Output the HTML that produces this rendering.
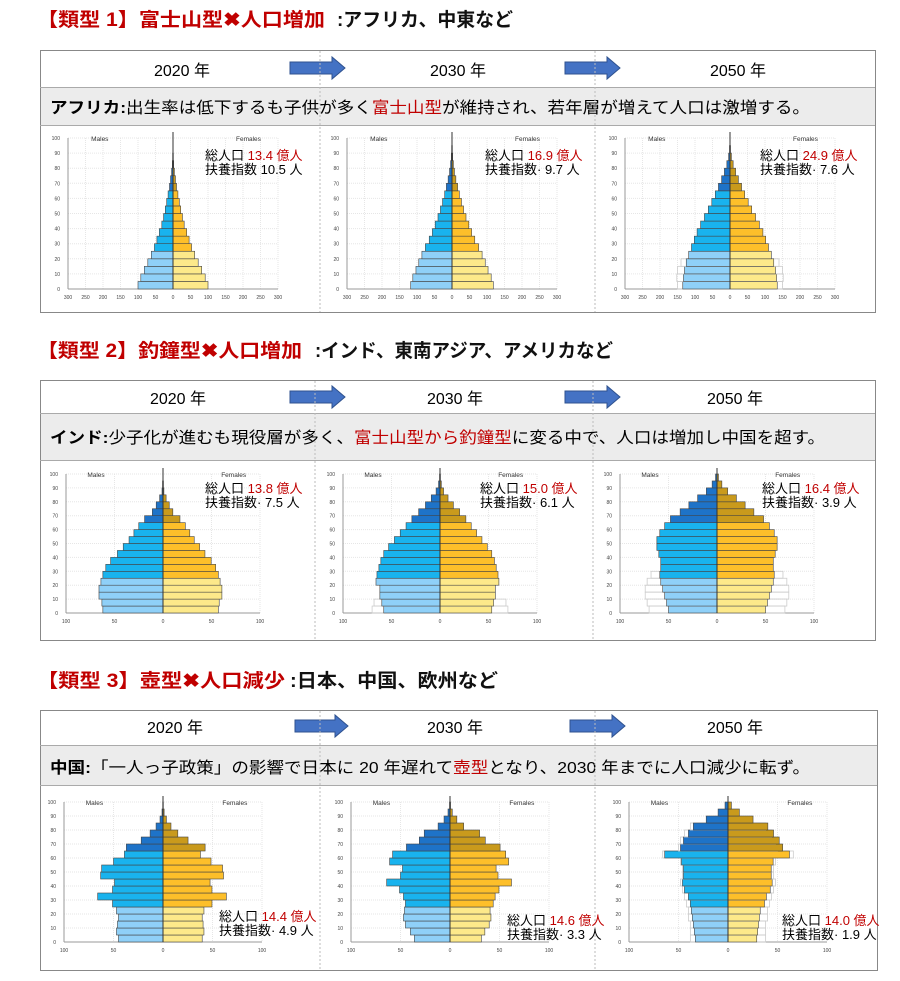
<!DOCTYPE html>
<html><head><meta charset="utf-8">
<style>
html,body{margin:0;padding:0;background:#fff;}
svg{display:block;font-family:"Liberation Sans","Noto Sans CJK JP",sans-serif;}
</style></head>
<body>
<svg id="s" width="900" height="981" viewBox="0 0 900 981" xmlns="http://www.w3.org/2000/svg">
<!-- Titles -->
<text x="37" y="26" font-size="19" font-weight="bold" fill="#c00000" textLength="288" lengthAdjust="spacingAndGlyphs">【類型 1】富士山型✖人口増加</text>
<text x="337" y="26" font-size="19" font-weight="bold" fill="#111" textLength="176" lengthAdjust="spacingAndGlyphs">:アフリカ、中東など</text>
<text x="37" y="357" font-size="19" font-weight="bold" fill="#c00000" textLength="265" lengthAdjust="spacingAndGlyphs">【類型 2】釣鐘型✖人口増加</text>
<text x="315" y="357" font-size="19" font-weight="bold" fill="#111" textLength="298" lengthAdjust="spacingAndGlyphs">:インド、東南アジア、アメリカなど</text>
<text x="37" y="687" font-size="19" font-weight="bold" fill="#c00000" textLength="248" lengthAdjust="spacingAndGlyphs">【類型 3】壺型✖人口減少</text>
<text x="290" y="687" font-size="19" font-weight="bold" fill="#111" textLength="208" lengthAdjust="spacingAndGlyphs">:日本、中国、欧州など</text>

<!-- Box 1 -->
<rect x="40.5" y="50.5" width="835" height="262" fill="#fff" stroke="#888"/>
<rect x="41" y="87" width="834" height="38" fill="#ececec"/>
<line x1="40" y1="87.5" x2="875" y2="87.5" stroke="#aaa"/>
<line x1="40" y1="125.5" x2="875" y2="125.5" stroke="#aaa"/>
<text x="182" y="76" font-size="16" text-anchor="middle">2020 年</text>
<text x="458" y="76" font-size="16" text-anchor="middle">2030 年</text>
<text x="738" y="76" font-size="16" text-anchor="middle">2050 年</text>
<polygon points="290,62 332,62 332,57 345,68 332,79 332,74 290,74" fill="#4472c4" stroke="#2f528f"/>
<polygon points="565,62 607,62 607,57 620,68 607,79 607,74 565,74" fill="#4472c4" stroke="#2f528f"/>
<text x="50" y="113" font-size="16" textLength="760" lengthAdjust="spacingAndGlyphs"><tspan font-weight="bold">アフリカ:</tspan>出生率は低下するも子供が多く<tspan fill="#c00000">富士山型</tspan>が維持され、若年層が増えて人口は激増する。</text>

<!-- Box 2 -->
<rect x="40.5" y="380.5" width="835" height="260" fill="#fff" stroke="#888"/>
<rect x="41" y="413" width="834" height="47" fill="#ececec"/>
<line x1="40" y1="413.5" x2="875" y2="413.5" stroke="#aaa"/>
<line x1="40" y1="460.5" x2="875" y2="460.5" stroke="#aaa"/>
<text x="178" y="404" font-size="16" text-anchor="middle">2020 年</text>
<text x="455" y="404" font-size="16" text-anchor="middle">2030 年</text>
<text x="735" y="404" font-size="16" text-anchor="middle">2050 年</text>
<polygon points="290,391 332,391 332,386 345,397 332,408 332,403 290,403" fill="#4472c4" stroke="#2f528f"/>
<polygon points="565,391 607,391 607,386 620,397 607,408 607,403 565,403" fill="#4472c4" stroke="#2f528f"/>
<text x="50" y="443" font-size="16" textLength="775" lengthAdjust="spacingAndGlyphs"><tspan font-weight="bold">インド:</tspan>少子化が進むも現役層が多く、<tspan fill="#c00000">富士山型から釣鐘型</tspan>に変る中で、人口は増加し中国を超す。</text>

<!-- Box 3 -->
<rect x="40.5" y="710.5" width="837" height="260" fill="#fff" stroke="#888"/>
<rect x="41" y="745" width="836" height="40" fill="#ececec"/>
<line x1="40" y1="745.5" x2="877" y2="745.5" stroke="#aaa"/>
<line x1="40" y1="785.5" x2="877" y2="785.5" stroke="#aaa"/>
<text x="175" y="733" font-size="16" text-anchor="middle">2020 年</text>
<text x="455" y="733" font-size="16" text-anchor="middle">2030 年</text>
<text x="735" y="733" font-size="16" text-anchor="middle">2050 年</text>
<polygon points="295,720 335,720 335,715 348,726 335,737 335,732 295,732" fill="#4472c4" stroke="#2f528f"/>
<polygon points="570,720 612,720 612,715 625,726 612,737 612,732 570,732" fill="#4472c4" stroke="#2f528f"/>
<text x="50" y="773" font-size="16" textLength="760" lengthAdjust="spacingAndGlyphs"><tspan font-weight="bold">中国:</tspan>「一人っ子政策」の影響で日本に 20 年遅れて<tspan fill="#c00000">壺型</tspan>となり、2030 年までに人口減少に転ず。</text>

<g id="charts"></g>

<!-- dividers -->
<g stroke="#bbb" stroke-dasharray="2,2">
<line x1="320" y1="51" x2="320" y2="312"/><line x1="595" y1="51" x2="595" y2="312"/>
<line x1="315" y1="381" x2="315" y2="640"/><line x1="593" y1="381" x2="593" y2="640"/>
<line x1="320" y1="711" x2="320" y2="970"/><line x1="595" y1="711" x2="595" y2="970"/>
</g>

<!-- annotations -->
<g font-size="13">
<text x="205" y="160">総人口 <tspan fill="#c00000">13.4 億人</tspan></text>
<text x="205" y="174">扶養指数 10.5 人</text>
<text x="485" y="160">総人口 <tspan fill="#c00000">16.9 億人</tspan></text>
<text x="485" y="174">扶養指数· 9.7 人</text>
<text x="760" y="160">総人口 <tspan fill="#c00000">24.9 億人</tspan></text>
<text x="760" y="174">扶養指数· 7.6 人</text>

<text x="205" y="493">総人口 <tspan fill="#c00000">13.8 億人</tspan></text>
<text x="205" y="507">扶養指数· 7.5 人</text>
<text x="480" y="493">総人口 <tspan fill="#c00000">15.0 億人</tspan></text>
<text x="480" y="507">扶養指数· 6.1 人</text>
<text x="762" y="493">総人口 <tspan fill="#c00000">16.4 億人</tspan></text>
<text x="762" y="507">扶養指数· 3.9 人</text>

<text x="219" y="921">総人口 <tspan fill="#c00000">14.4 億人</tspan></text>
<text x="219" y="935">扶養指数· 4.9 人</text>
<text x="507" y="925">総人口 <tspan fill="#c00000">14.6 億人</tspan></text>
<text x="507" y="939">扶養指数· 3.3 人</text>
<text x="782" y="925">総人口 <tspan fill="#c00000">14.0 億人</tspan></text>
<text x="782" y="939">扶養指数· 1.9 人</text>
</g>
</svg>
<script>
(function(){
var NS="http://www.w3.org/2000/svg",g=document.getElementById("charts");
function el(t,a,txt){var e=document.createElementNS(NS,t);for(var k in a)e.setAttribute(k,a[k]);if(txt!=null)e.textContent=txt;g.appendChild(e);return e;}
var CL=["#8fd0f8","#fde98a"],CM=["#19b3ee","#fdbf2a"],CD=["#1e73c8","#c99a1c"];
function pyr(p){
 var cx=p.cx,y0=p.y0,yt=p.yt,s=p.s,m=p.max,left=cx-m*s,right=cx+m*s,bh=(y0-yt)/20;
 for(var v=-m;v<=m;v+=p.step){var x=cx+v*s;el("line",{x1:x,y1:yt,x2:x,y2:y0,stroke:"#e6e6e6","stroke-dasharray":"1,1"});
  el("text",{x:x,y:y0+10,"font-size":5,"text-anchor":"middle",fill:"#444"},String(Math.abs(v)));}
 for(var a=0;a<=100;a+=10){var y=y0-a/5*bh;el("line",{x1:left,y1:y,x2:right,y2:y,stroke:"#e6e6e6","stroke-dasharray":"1,1"});
  el("text",{x:left-8,y:y+2,"font-size":5,"text-anchor":"end",fill:"#444"},String(a));}
 el("line",{x1:left,y1:yt,x2:left,y2:y0,stroke:"#999"});
 el("line",{x1:left,y1:y0,x2:right,y2:y0,stroke:"#999"});
 el("text",{x:left+(cx-left)*0.22,y:yt+3,"font-size":6.5,fill:"#333"},"Males");
 el("text",{x:cx+(right-cx)*0.6,y:yt+3,"font-size":6.5,fill:"#333"},"Females");
 var d=p.d;
 for(var i=0;i<20;i++){
  var y=y0-(i+1)*bh,c=i<5?CL:(i<13?CM:CD),mv=d[i]*s,fv=d[i]*s*(p.f?p.f(i):1.0);
  if(p.gh&&p.gh[i]){var gw=p.gh[i]*s;el("rect",{x:cx-gw,y:y,width:2*gw,height:bh,fill:"none",stroke:"#ccc","stroke-width":0.8});}
  el("rect",{x:cx-mv,y:y,width:mv,height:bh,fill:c[0],stroke:"#444","stroke-width":0.6});
  el("rect",{x:cx,y:y,width:fv,height:bh,fill:c[1],stroke:"#444","stroke-width":0.6});
 }
 el("line",{x1:cx,y1:yt-6,x2:cx,y2:y0,stroke:"#333","stroke-width":1});
}
var A={y0:289,yt:138,s:0.35,max:300,step:50};
function cp(o,x){var r={};for(var k in o)r[k]=o[k];for(k in x)r[k]=x[k];return r;}
pyr(cp(A,{cx:173,d:[100,92,82,72,62,53,46,39,32,27,22,18,14,10,7,4,2,1,0.5,0.2]}));
pyr(cp(A,{cx:452,d:[118,112,103,95,86,76,65,56,48,40,33,27,21,16,11,7,4,2,1,0.3]}));
pyr(cp(A,{cx:730,d:[135,133,130,125,118,110,102,94,84,73,62,52,42,33,24,16,9,4,1.5,0.5],gh:[150,152,150,140]}));
var B={y0:613,yt:474,s:0.97,max:100,step:50};
pyr(cp(B,{cx:163,d:[62,63,66,66,64,62,59,54,47,41,35,30,25,19,11,7,3.5,1,0.5,0.2],f:function(i){return 0.92}}));
pyr(cp(B,{cx:440,d:[58,60,62,62,66,65,63,61,58,53,47,41,35,29,22,15,9,4,1.5,0.5],f:function(i){return 0.92},gh:[70,68]}));
pyr(cp(B,{cx:717,d:[50,52,54,56,58,59,58,58,60,62,62,59,54,48,38,29,20,11,5,1.5],gh:[70,72,74,74,72,68]}));
var C={y0:942,yt:802,s:0.99,max:100,step:50};
function fc(i){return i<5?0.88:(i<13?0.97:1.15);}
pyr(cp(C,{cx:163,d:[45,47,46,45,47,51,66,51,49,63,62,50,39,37,22,13,7,3,1,0.3],f:fc}));
pyr(cp(C,{cx:450,d:[36,40,45,47,46,45,47,51,64,50,48,61,58,44,31,26,12,6,2,0.5],f:fc}));
pyr(cp(C,{cx:728,d:[33,34,35,36,37,38,40,44,46,45,45,47,64,48,45,40,35,22,10,3],f:fc,gh:[38,38,38,40,40,42,44,46,48,46,46,48,66,50,48,44,38]}));
})();
</script>
</body></html>
